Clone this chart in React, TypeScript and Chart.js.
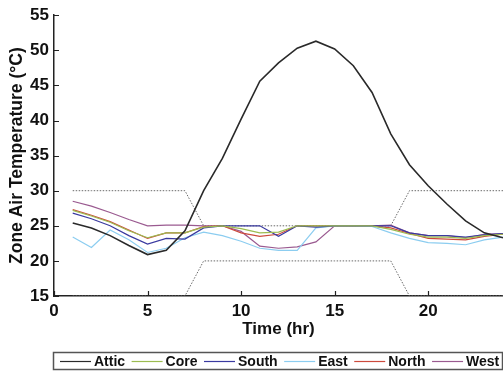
import React, { useEffect, useRef } from 'react';
import { Chart, registerables } from 'chart.js';

Chart.register(...registerables);

// ---- data ----
const hours = [1, 2, 3, 4, 5, 6, 7, 8, 9, 10, 11, 12, 13, 14, 15, 16, 17, 18, 19, 20, 21, 22, 23, 24];
const attic = [25.4, 24.7, 23.6, 22.2, 20.9, 21.5, 24.3, 30.0, 34.6, 40.2, 45.6, 48.2, 50.3, 51.3, 50.2, 47.8, 44.0, 38.1, 33.7, 30.7, 28.1, 25.7, 24.0, 23.3];
const core = [27.2, 26.4, 25.5, 24.3, 23.3, 24.0, 24.0, 24.8, 25.0, 24.6, 24.0, 24.1, 25.0, 25.0, 25.0, 25.0, 25.0, 24.5, 23.8, 23.4, 23.4, 23.2, 23.6, 23.8];
const south = [26.8, 26.0, 25.0, 23.6, 22.4, 23.2, 23.1, 24.7, 25.0, 25.0, 25.0, 23.5, 25.0, 24.8, 25.0, 25.0, 25.0, 25.0, 24.0, 23.6, 23.6, 23.4, 23.7, 23.9];
const east = [23.4, 21.9, 24.4, 23.0, 21.2, 21.8, 23.3, 24.1, 23.6, 22.8, 21.8, 21.5, 21.5, 24.7, 25.0, 25.0, 24.9, 24.0, 23.2, 22.6, 22.5, 22.3, 23.0, 23.4];
const north = [27.3, 26.5, 25.6, 24.4, 23.2, 24.0, 24.0, 24.9, 25.0, 24.0, 23.5, 23.8, 25.0, 25.0, 25.0, 25.0, 25.0, 24.7, 23.9, 23.2, 23.1, 23.0, 23.5, 23.8];
const west = [28.5, 27.8, 26.9, 25.9, 25.0, 25.1, 25.1, 25.0, 25.0, 24.2, 22.1, 21.8, 22.0, 22.7, 25.0, 25.0, 25.0, 25.1, 24.0, 23.6, 23.6, 23.3, 23.8, 23.9];
const coolingSetpoint = [30, 30, 30, 30, 30, 30, 30, 25, 25, 25, 25, 25, 25, 25, 25, 25, 25, 25, 30, 30, 30, 30, 30, 30];
const heatingSetpoint = [15, 15, 15, 15, 15, 15, 15, 20, 20, 20, 20, 20, 20, 20, 20, 20, 20, 20, 15, 15, 15, 15, 15, 15];

const seriesLabels = ['Attic', 'Core', 'South', 'East', 'North', 'West'];
const seriesValues = [attic, core, south, east, north, west];
const seriesColors = ['#2a2a2a', '#9cbc50', '#3a3aa0', '#8ccdf0', '#cc4a3c', '#9a5a90'];
const xTickValues = [0, 5, 10, 15, 20];
const yTickValues = [15, 20, 25, 30, 35, 40, 45, 50, 55];

const FONT = '"Liberation Sans", Arial, sans-serif';

const toPoints = (vals: number[]) => vals.map((v, i) => ({ x: hours[i], y: v }));

const innerTicks = {
  id: 'innerTicks',
  afterDraw(chart: any) {
    const ctx = chart.ctx as CanvasRenderingContext2D;
    const { x, y } = chart.scales;
    const area = chart.chartArea;
    ctx.save();
    ctx.strokeStyle = '#222';
    ctx.lineWidth = 1.2;
    ctx.beginPath();
    x.ticks.forEach((t: any) => {
      const px = Math.round(x.getPixelForValue(t.value)) + 0.5;
      ctx.moveTo(px, area.bottom);
      ctx.lineTo(px, area.bottom - 5);
    });
    y.ticks.forEach((t: any) => {
      const py = Math.round(y.getPixelForValue(t.value)) + 0.5;
      ctx.moveTo(area.left, py);
      ctx.lineTo(area.left + 5, py);
    });
    ctx.stroke();
    ctx.restore();
  },
};

const boxLegend = {
  id: 'boxLegend',
  afterDraw(chart: any) {
    const ctx = chart.ctx as CanvasRenderingContext2D;
    ctx.save();
    ctx.strokeStyle = '#555';
    ctx.lineWidth = 1.5;
    ctx.strokeRect(53.5, 352.5, 449, 17);
    ctx.font = `bold 14px ${FONT}`;
    ctx.textBaseline = 'middle';
    ctx.textAlign = 'left';
    let x = 60;
    const y = 361.5;
    seriesLabels.forEach((lab, i) => {
      ctx.strokeStyle = seriesColors[i];
      ctx.lineWidth = 1.2;
      ctx.beginPath();
      ctx.moveTo(x, y);
      ctx.lineTo(x + 31, y);
      ctx.stroke();
      x += 34;
      ctx.fillStyle = '#111';
      ctx.fillText(lab, x, y + 1);
      x += ctx.measureText(lab).width + 6.5;
    });
    ctx.restore();
  },
};

export default function App() {
  const ref = useRef<HTMLCanvasElement | null>(null);

  useEffect(() => {
    if (!ref.current) return;
    const datasets: any[] = seriesLabels.map((lab, i) => ({
      label: lab,
      data: toPoints(seriesValues[i]),
      borderColor: seriesColors[i],
      borderWidth: i === 0 ? 1.6 : 1.2,
      pointRadius: 0,
      tension: 0,
      fill: false,
      order: i === 0 ? 0 : 1,
    }));
    datasets.push({
      label: 'Cooling setpoint',
      data: toPoints(coolingSetpoint),
      borderColor: '#6a6a6a',
      borderWidth: 1,
      borderDash: [1.5, 1.5],
      pointRadius: 0,
      tension: 0,
      order: 2,
    });
    datasets.push({
      label: 'Heating setpoint',
      data: toPoints(heatingSetpoint),
      borderColor: '#6a6a6a',
      borderWidth: 1,
      borderDash: [1.5, 1.5],
      pointRadius: 0,
      tension: 0,
      order: 2,
    });

    const chart = new Chart(ref.current, {
      type: 'line',
      data: { datasets },
      plugins: [innerTicks, boxLegend],
      options: {
        animation: false,
        responsive: false,
        layout: { padding: { top: 4, right: 0, bottom: 33, left: 0 } },
        plugins: {
          legend: { display: false },
          tooltip: { enabled: false },
        },
        scales: {
          x: {
            type: 'linear',
            min: 0,
            max: 24,
            afterBuildTicks: (s: any) => {
              s.ticks = xTickValues.map((v) => ({ value: v }));
            },
            afterFit: (s: any) => {
              s.height = 46;
            },
            border: { color: '#222', width: 1.5 },
            grid: { display: true, drawOnChartArea: false, drawTicks: false },
            ticks: { font: { family: FONT, size: 17, weight: 'bold' }, color: '#111', padding: 5 },
            title: {
              display: true,
              text: 'Time (hr)',
              font: { family: FONT, size: 17, weight: 'bold' },
              color: '#111',
              padding: { top: 0, bottom: 2 },
            },
          },
          y: {
            type: 'linear',
            min: 15,
            max: 55,
            afterBuildTicks: (s: any) => {
              s.ticks = yTickValues.map((v) => ({ value: v }));
            },
            afterFit: (s: any) => {
              s.width = 54;
            },
            border: { color: '#222', width: 1.5 },
            grid: { display: true, drawOnChartArea: false, drawTicks: false },
            ticks: { font: { family: FONT, size: 17, weight: 'bold' }, color: '#111', padding: 5 },
            title: {
              display: true,
              text: 'Zone Air Temperature (°C)',
              font: { family: FONT, size: 17.5, weight: 'bold' },
              color: '#111',
              padding: { top: 7, bottom: 0 },
            },
          },
        },
      },
    });
    return () => chart.destroy();
  }, []);

  return (
    <div style={{ position: 'fixed', left: 0, top: 0, width: 503, height: 375, background: '#fff' }}>
      <canvas ref={ref} width={503} height={375} style={{ display: 'block' }} />
    </div>
  );
}
